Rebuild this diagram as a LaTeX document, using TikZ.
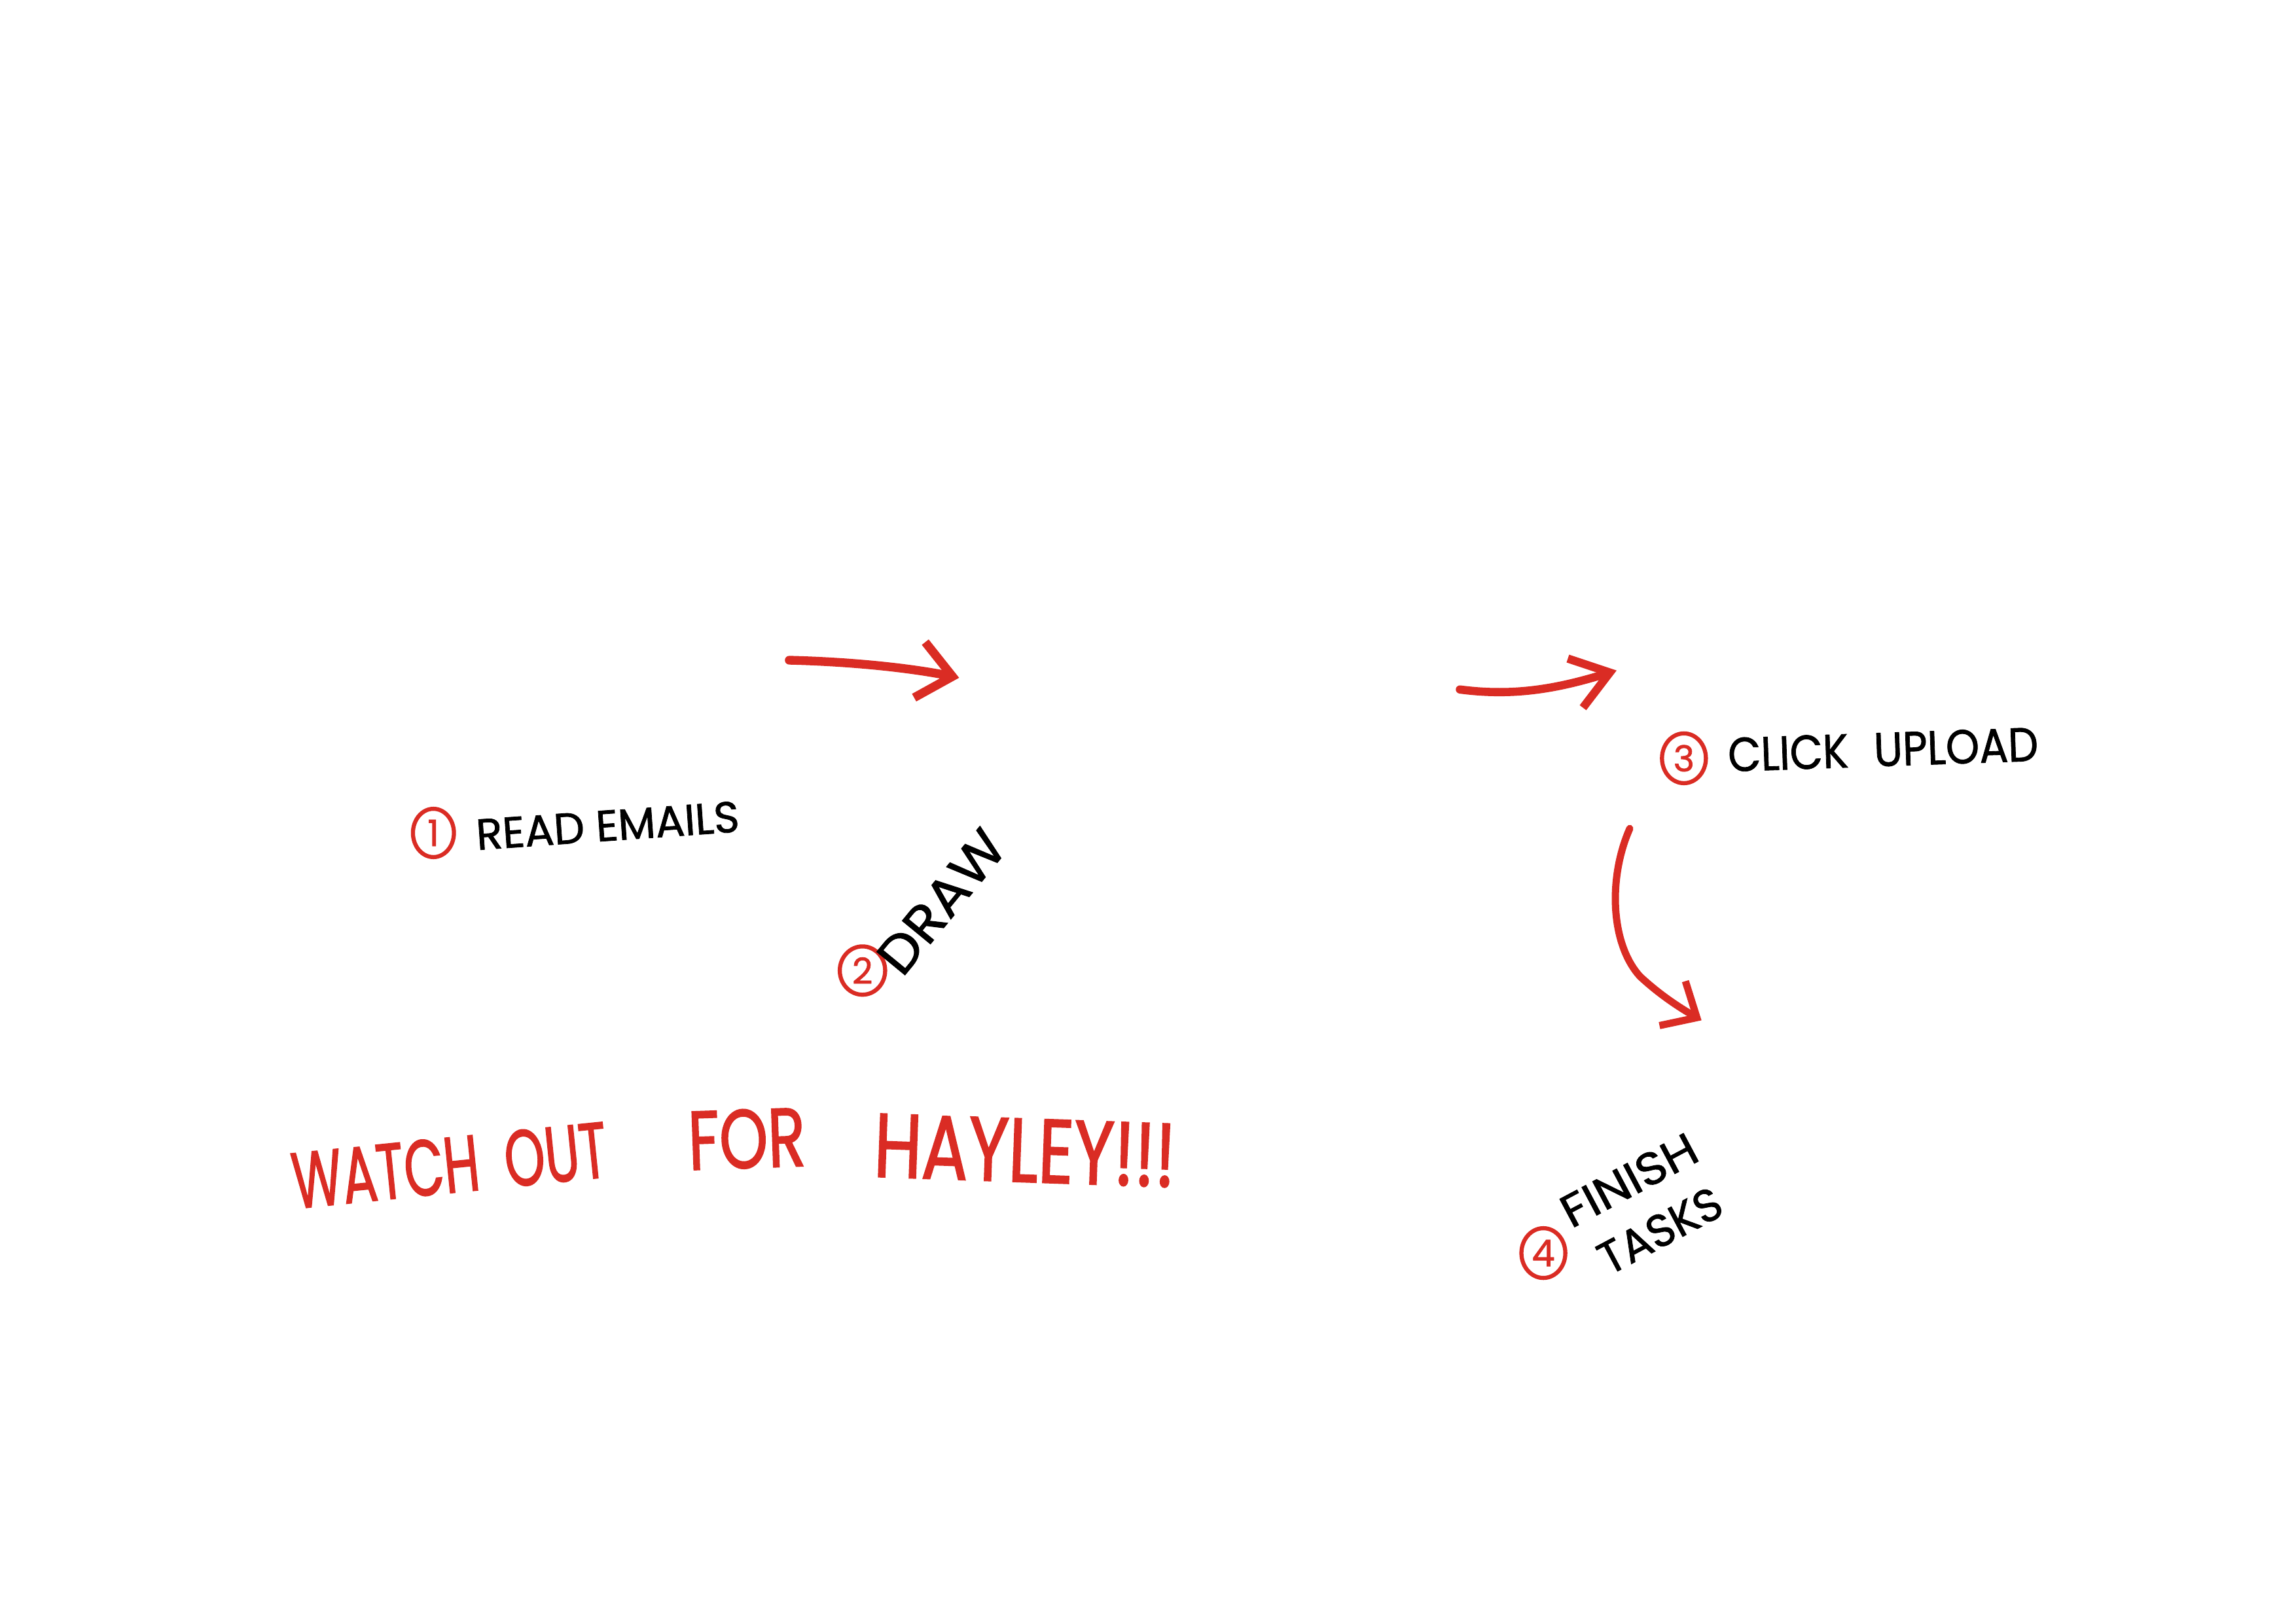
\documentclass[tikz,border=0pt]{standalone}
\usepackage{fontspec}
\setmainfont{Poppins}
\newfontfamily\handfont{Poppins}[FakeBold=1.2]
\newfontfamily\redhand{Poppins}[FakeBold=1.8]
\usetikzlibrary{arrows.meta,shapes.geometric}
\definecolor{pen}{RGB}{218,44,36}
\begin{document}
\begin{tikzpicture}[x=0.02cm,y=-0.02cm,
  numc/.style={draw=pen, text=pen, ellipse, line width=1.6pt, inner sep=0pt,
    minimum width=0.56cm, minimum height=0.66cm},
  blk/.style={text=black, inner sep=0pt, font=\handfont},
  redtxt/.style={text=pen, inner sep=0pt, font=\redhand},
  pencon/.style={draw=pen, line width=#1, line cap=round, line join=round},
  pencon/.default=3pt]
\useasboundingbox[fill=white] (0,0) rectangle (1568,1109);
\newcommand{\digit}[1]{\resizebox{!}{0.36cm}{\handfont #1}}

% step 1
\node[numc] (c1) at (296,569) {\digit{1}};
\node[blk, rotate=4] (t1) at (415,564) {\resizebox{3.6cm}{0.42cm}{READ EMAILS}};

% step 2
\node[numc, minimum width=0.62cm, minimum height=0.66cm] (c2) at (589,663) {\digit{2}};
\node[blk, rotate=50.6] (t2) at (643,616) {\resizebox{2.3cm}{0.5cm}{DRAW}};

% step 3
\node[numc, minimum width=0.6cm, minimum height=0.68cm] (c3) at (1150,518) {\digit{3}};
\node[blk, rotate=2] (t3) at (1286,512) {\resizebox{4.24cm}{0.46cm}{CLICK\hspace{0.6em}UPLOAD}};

% step 4
\node[numc, minimum width=0.6cm, minimum height=0.68cm] (c4) at (1054,856) {\digit{4}};
\node[blk, rotate=28, align=left, font=\handfont\fontsize{10}{23}\selectfont] (t4) at (1122,824)
  {\resizebox{2.02cm}{0.44cm}{FINISH}\\\hspace*{0.15cm}\resizebox{1.82cm}{0.44cm}{TASKS}};

% warning
\node[redtxt, rotate=5.8] (w1) at (307,796) {\resizebox{4.32cm}{0.76cm}{WATCH\hspace{0.5em}OUT}};
\node[redtxt, rotate=2] (w2) at (510,778) {\resizebox{1.6cm}{0.8cm}{FOR}};
\node[redtxt, rotate=-2] (w3) at (700,786) {\resizebox{4.12cm}{0.86cm}{HAYLEY!!!}};

% arrows
\coordinate (a1s) at (539,451);
\coordinate (a1e) at (655,463);
\draw[pencon=3.4pt, -{Straight Barb[length=13pt,width=22pt]}]
  (a1s) .. controls (580,452) and (620,456) .. (a1e);

\coordinate (a2s) at (997,471);
\coordinate (a2e) at (1104,458);
\draw[pencon=3.2pt, -{Straight Barb[length=14pt,width=20pt]}]
  (a2s) .. controls (1035,476) and (1065,470) .. (a2e);

\coordinate (a3s) at (1113,566);
\coordinate (a3e) at (1162,697);
\draw[pencon=2.8pt, -{Straight Barb[length=11pt,width=20pt]}]
  (a3s) .. controls (1098,600) and (1100,645) .. (1120,667)
        .. controls (1135,681) and (1150,690) .. (a3e);
\end{tikzpicture}
\end{document}
